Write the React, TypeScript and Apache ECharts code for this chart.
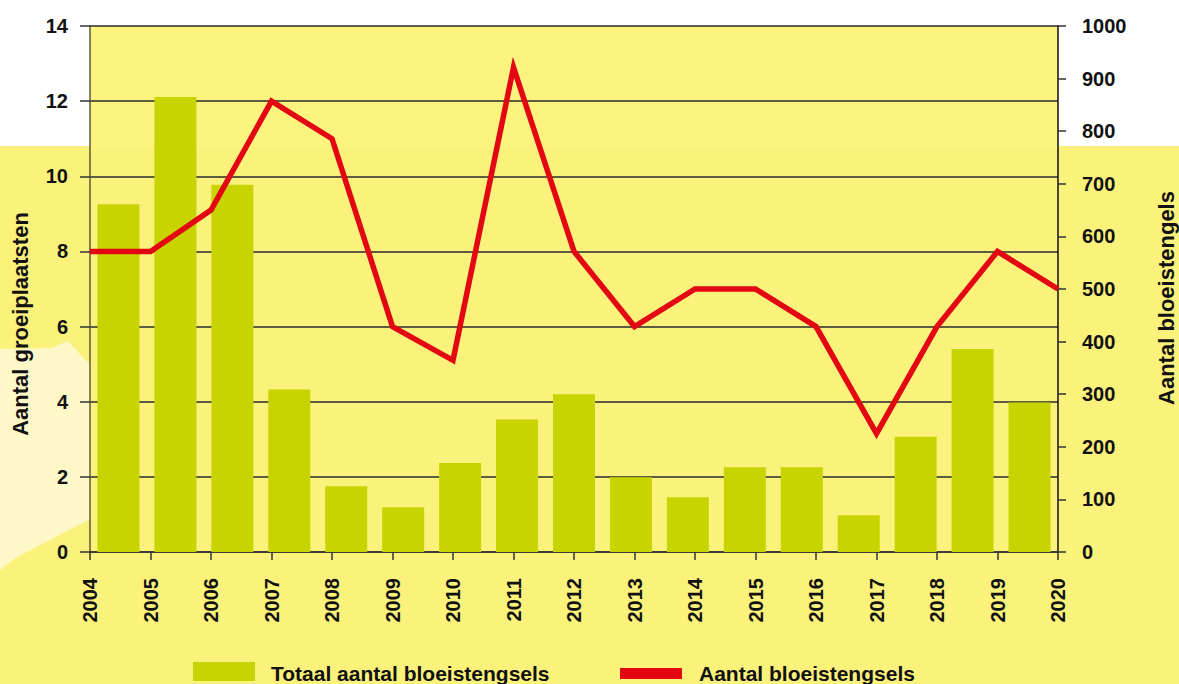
import React, { useEffect, useRef } from "react";
import * as echarts from "echarts";

const years = ["2004", "2005", "2006", "2007", "2008", "2009", "2010", "2011", "2012", "2013", "2014", "2015", "2016", "2017", "2018", "2019", "2020"];
// Totaal aantal bloeistengsels (right axis)
const barValues = [661, 865, 698, 309, 125, 85, 169, 252, 300, 142, 104, 161, 161, 70, 219, 386, 284];
// Aantal (left axis)
const lineValues = [8, 8, 9.1, 12, 11, 6, 5.1, 12.9, 8, 6, 7, 7, 6, 3.15, 6, 8, 7];

const leftTitle = "Aantal groeiplaatsten";
const rightTitle = "Aantal bloeistengels";
const barLegend = "Totaal aantal bloeistengsels";
const lineLegend = "Aantal bloeistengsels";

const FONT = "'Liberation Sans', Arial, sans-serif";
const YELLOW = "#FBF27B";
const YELLOW_TOP = "#FCF47F";
const CREAM = "#FEF8C9";
const BAR = "#C8D400";
const RED = "#E30613";

export default function App() {
  const ref = useRef<HTMLDivElement>(null);
  useEffect(() => {
    if (!ref.current) return;
    const chart = echarts.init(ref.current, undefined, { renderer: "svg" });
    chart.setOption({
      animation: false,
      backgroundColor: "#ffffff",
      grid: {
        left: 90,
        right: 121,
        top: 26,
        bottom: 132,
        show: false,
        containLabel: false,
      },
      xAxis: [
        {
          type: "category",
          data: years,
          boundaryGap: true,
          show: false,
        },
        {
          type: "category",
          data: years,
          boundaryGap: false,
          position: "bottom",
          axisLine: { show: true, lineStyle: { color: "#333", width: 1.5 } },
          axisTick: { show: true, length: 8, lineStyle: { color: "#333", width: 1.5 } },
          axisLabel: {
            rotate: 90,
            margin: 26,
            fontSize: 20,
            fontWeight: "bold",
            fontFamily: FONT,
            color: "#111",
            interval: 0,
          },
          splitLine: { show: false },
        },
      ],
      yAxis: [
        {
          type: "value",
          min: 0,
          max: 14,
          interval: 2,
          position: "left",
          axisLine: { show: true, lineStyle: { color: "#5a5a3c", width: 1.5 } },
          axisTick: { show: true, length: 10, lineStyle: { color: "#333", width: 1.5 } },
          axisLabel: { margin: 22, fontSize: 20, fontWeight: "bold", fontFamily: FONT, color: "#111" },
          splitLine: { show: true, lineStyle: { color: "#2a2a2a", width: 1.5 } },
        },
        {
          type: "value",
          min: 0,
          max: 1000,
          interval: 100,
          position: "right",
          axisLine: { show: true, lineStyle: { color: "#111", width: 1.5 } },
          axisTick: { show: true, length: 8, lineStyle: { color: "#333", width: 1.5 } },
          axisLabel: {
            margin: 24,
            fontSize: 20,
            fontWeight: "bold",
            fontFamily: FONT,
            color: "#111",
            formatter: (v: number) => String(v),
          },
          splitLine: { show: false },
        },
      ],
      series: [
        {
          name: barLegend,
          type: "bar",
          xAxisIndex: 0,
          yAxisIndex: 1,
          data: barValues,
          barWidth: 42,
          itemStyle: { color: BAR },
          z: 2,
        },
        {
          name: lineLegend,
          type: "line",
          xAxisIndex: 1,
          yAxisIndex: 0,
          data: lineValues,
          symbol: "none",
          lineStyle: { color: RED, width: 5.5, join: "miter", miterLimit: 10 },
          z: 3,
        },
      ],
      graphic: [
        {
          type: "rect",
          z: -100,
          silent: true,
          shape: { x: 0, y: 146, width: 1179, height: 540 },
          style: { fill: YELLOW },
        },
        {
          type: "rect",
          z: -100,
          silent: true,
          shape: { x: 90, y: 26, width: 968, height: 120 },
          style: { fill: YELLOW_TOP },
        },
        {
          type: "polygon",
          z: -99,
          silent: true,
          shape: {
            points: [
              [0, 349],
              [52, 348],
              [68, 341],
              [90, 365],
              [90, 519],
              [50, 540],
              [17, 557],
              [0, 570],
            ],
          },
          style: { fill: CREAM },
        },
        {
          type: "text",
          z: 100,
          x: 20,
          y: 324,
          rotation: Math.PI / 2,
          style: {
            text: leftTitle,
            fill: "#111",
            font: `bold 22px ${FONT}`,
            align: "center",
            verticalAlign: "middle",
          },
        },
        {
          type: "text",
          z: 100,
          x: 1166,
          y: 298,
          rotation: Math.PI / 2,
          style: {
            text: rightTitle,
            fill: "#111",
            font: `bold 22px ${FONT}`,
            align: "center",
            verticalAlign: "middle",
          },
        },
        {
          type: "rect",
          z: 100,
          shape: { x: 193, y: 662, width: 62, height: 19 },
          style: { fill: BAR },
        },
        {
          type: "text",
          z: 100,
          x: 271,
          y: 673,
          style: {
            text: barLegend,
            fill: "#111",
            font: `bold 21px ${FONT}`,
            align: "left",
            verticalAlign: "middle",
          },
        },
        {
          type: "rect",
          z: 100,
          shape: { x: 620, y: 668, width: 62, height: 11 },
          style: { fill: RED },
        },
        {
          type: "text",
          z: 100,
          x: 699,
          y: 673,
          style: {
            text: lineLegend,
            fill: "#111",
            font: `bold 21px ${FONT}`,
            align: "left",
            verticalAlign: "middle",
          },
        },
      ],
    });
    return () => chart.dispose();
  }, []);
  return (
    <div
      ref={ref}
      style={{ position: "fixed", left: 0, top: 0, width: 1179, height: 684 }}
    />
  );
}
